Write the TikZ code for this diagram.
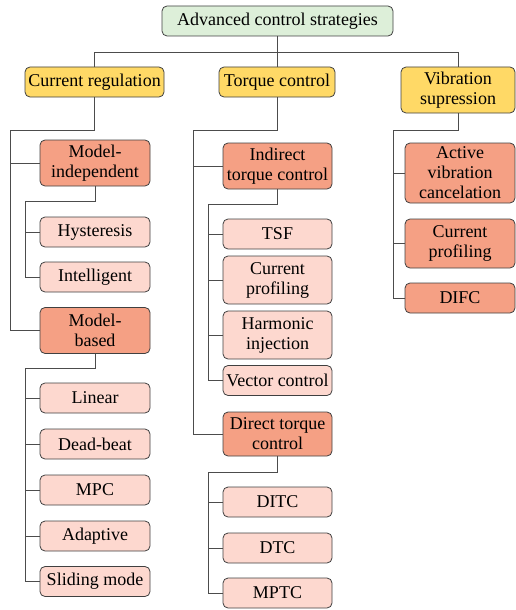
\documentclass[tikz,border=0pt]{standalone}
\usepackage{fontspec}
\setmainfont{Liberation Serif}
\usepackage{tikz}
\usetikzlibrary{positioning}
\definecolor{rootgreen}{HTML}{DDEFD9}
\definecolor{grpyellow}{HTML}{FFD966}
\definecolor{subsalmon}{HTML}{F5A084}
\definecolor{leafpink}{HTML}{FDD8CF}
\tikzset{
  box/.style={draw=black!75,line width=0.8pt,rounded corners=5pt,align=center,
    inner xsep=2pt,inner ysep=2pt,font=\fontsize{18}{20}\selectfont},
  top/.style={box,fill=rootgreen,minimum width=231pt,minimum height=30pt},
  grp/.style={box,fill=grpyellow,minimum height=30pt},
  sub/.style={box,fill=subsalmon,minimum width=110pt,minimum height=30pt},
  leaf/.style={box,fill=leafpink,minimum width=110pt,minimum height=30pt},
  link/.style={draw=black!70,line width=0.8pt}
}

\begin{document}
\begin{tikzpicture}[x=1pt,y=-1pt]
\useasboundingbox (0,0) rectangle (515,610);
\node[top] (acs) at (277.5,21) {Advanced control strategies};
\node[grp,minimum width=139pt] (cr) at (94.5,82) {Current regulation};
\node[grp,minimum width=116pt] (tc) at (277,82) {Torque control};
\node[grp,minimum width=114pt,minimum height=46pt] (vs) at (458,90) {Vibration\\supression};
% current regulation
\node[sub,minimum height=46pt] (mi) at (95,163) {Model-\\independent};
\node[leaf] (hys) at (95,232) {Hysteresis};
\node[leaf] (intl) at (95,277) {Intelligent};
\node[sub,minimum height=46pt] (mb) at (95,330.5) {Model-\\based};
\node[leaf] (lin) at (95,398) {Linear};
\node[leaf] (db) at (95,444) {Dead-beat};
\node[leaf] (mpc) at (95,490) {MPC};
\node[leaf] (adp) at (95,536) {Adaptive};
\node[leaf] (smc) at (95,581.5) {Sliding mode};
% torque control
\node[sub,minimum width=109pt,minimum height=46pt] (itc) at (277.5,166) {Indirect\\torque control};
\node[leaf,minimum width=109pt] (tsf) at (277.5,234) {TSF};
\node[leaf,minimum width=109pt,minimum height=48pt] (cp1) at (277.5,280) {Current\\profiling};
\node[leaf,minimum width=109pt,minimum height=48pt] (hi) at (277.5,335) {Harmonic\\injection};
\node[leaf,minimum width=109pt] (vc) at (277.5,380.5) {Vector control};
\node[sub,minimum width=109pt,minimum height=44pt] (dtc) at (277.5,434) {Direct torque\\control};
\node[leaf,minimum width=109pt] (ditc) at (277.5,502) {DITC};
\node[leaf,minimum width=109pt] (dtcl) at (277.5,548) {DTC};
\node[leaf,minimum width=109pt] (mptc) at (277.5,593) {MPTC};
% vibration supression
\node[sub,minimum height=60pt] (avc) at (460,173) {Active\\vibration\\cancelation};
\node[sub,minimum height=49pt] (cp2) at (460,243.5) {Current\\profiling};
\node[sub] (difc) at (460,298) {DIFC};
% junctions
\coordinate (bus) at (277.5,52);
\coordinate (crj) at (10,130);
\coordinate (mij) at (25,201);
\coordinate (mbj) at (25,368);
\coordinate (tcj) at (193,130);
\coordinate (itcj) at (208,204);
\coordinate (dtcj) at (208,472);
\coordinate (vsj) at (393,130);
\draw[link] (acs.south) -- (bus) -| (cr.north);
\draw[link] (bus) -| (vs.north);
\draw[link] (bus) -| (tc.north);
\draw[link] (cr.south) |- (crj);
\draw[link] (tc.south) |- (tcj);
\draw[link] (vs.south) |- (vsj);
\draw[link] (mi.south) |- (mij);
\draw[link] (mb.south) |- (mbj);
\draw[link] (itc.south) |- (itcj);
\draw[link] (dtc.south) |- (dtcj);
\foreach \n in {mi,mb} \draw[link] (crj) |- (\n.west);
\foreach \n in {hys,intl} \draw[link] (mij) |- (\n.west);
\foreach \n in {lin,db,mpc,adp,smc} \draw[link] (mbj) |- (\n.west);
\foreach \n in {itc,dtc} \draw[link] (tcj) |- (\n.west);
\foreach \n in {tsf,cp1,hi,vc} \draw[link] (itcj) |- (\n.west);
\foreach \n in {ditc,dtcl,mptc} \draw[link] (dtcj) |- (\n.west);
\foreach \n in {avc,cp2,difc} \draw[link] (vsj) |- (\n.west);
\end{tikzpicture}
\end{document}
